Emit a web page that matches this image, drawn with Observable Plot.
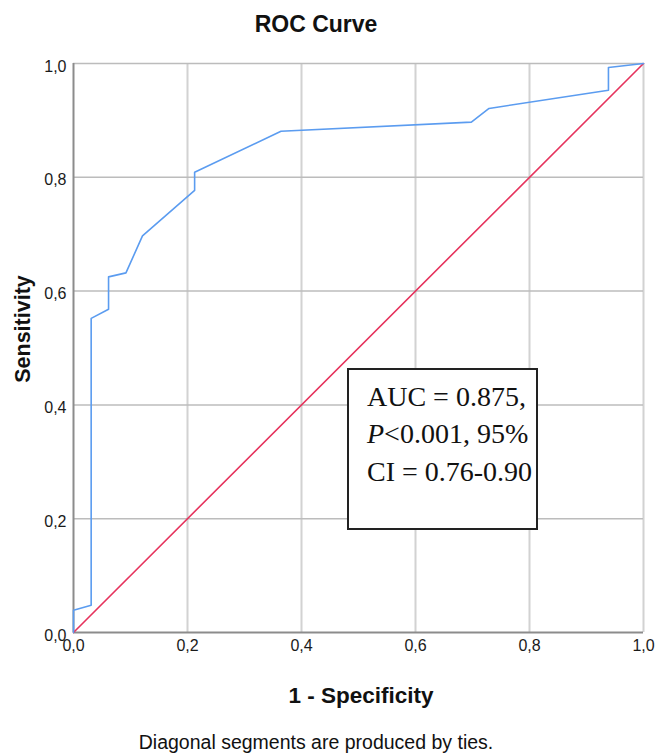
<!DOCTYPE html>
<html>
<head>
<meta charset="utf-8">
<script src="https://cdn.jsdelivr.net/npm/d3@7"></script>
<script src="https://cdn.jsdelivr.net/npm/@observablehq/plot@0.6"></script>
<style>
  html, body { margin: 0; padding: 0; background: #fff; }
  #chart { position: relative; width: 655px; height: 754px; }
</style>
</head>
<body>
<div id="chart"></div>
<script>
// ROC curve points (1 - specificity, sensitivity)
const fpr = [0, 0, 0.031, 0.031, 0.0615, 0.0615, 0.092, 0.121, 0.2125, 0.2125, 0.364, 0.698, 0.729, 0.9385, 0.9385, 1];
const tpr = [0, 0.039, 0.048, 0.552, 0.568, 0.625, 0.632, 0.697, 0.777, 0.809, 0.881, 0.897, 0.921, 0.953, 0.993, 1];
// reference (chance) line
const refX = [0, 1];
const refY = [0, 1];
// tick values
const ticks = [0, 0.2, 0.4, 0.6, 0.8, 1.0];
// texts
const titleText = "ROC Curve";
const xLabel = "1 - Specificity";
const yLabel = "Sensitivity";
const caption = "Diagonal segments are produced by ties.";
const annotLines = [["AUC = 0.875,"], ["P", "<0.001, 95%"], ["CI = 0.76-0.90"]];

const roc = fpr.map((x, i) => ({x, y: tpr[i]}));
const ref = refX.map((x, i) => ({x, y: refY[i]}));
const fmt = d => d.toFixed(1).replace(".", ",");

const W = 655, H = 754;
const mL = 73, mR = 12, mT = 63, mB = 122;

const plot = Plot.plot({
  width: W,
  height: H,
  marginLeft: mL,
  marginRight: mR,
  marginTop: mT,
  marginBottom: mB,
  style: {fontFamily: "'Liberation Sans', Arial, sans-serif", fontSize: "16px", background: "#fff", color: "#222", overflow: "visible"},
  x: {domain: [0, 1]},
  y: {domain: [0, 1]},
  marks: [
    Plot.ruleX(ticks.filter(d => d > 0), {stroke: "#d2d2d2", strokeWidth: 2}),
    Plot.ruleY(ticks.filter(d => d > 0), {stroke: "#bcbcbc", strokeWidth: 1.5}),
    Plot.ruleX([0], {stroke: "#8c8c8c", strokeWidth: 2}),
    Plot.ruleY([0], {stroke: "#8c8c8c", strokeWidth: 2}),
    Plot.axisX({ticks, tickFormat: fmt, tickSize: 0, tickPadding: 7, label: null, fontSize: 16, fill: "#1a1a1a"}),
    Plot.axisY({ticks, tickFormat: fmt, tickSize: 0, tickPadding: 7, label: null, fontSize: 16, fill: "#1a1a1a", dy: 3}),
    Plot.line(ref, {x: "x", y: "y", stroke: "#e6335d", strokeWidth: 1.6}),
    Plot.line(roc, {x: "x", y: "y", stroke: "#5b9cf0", strokeWidth: 1.6})
  ]
});

const svg = d3.select(plot);
const sans = "'Liberation Sans', Arial, sans-serif";
const serif = "'Liberation Serif', 'Times New Roman', serif";

// title
svg.append("text").attr("x", 316).attr("y", 32).attr("text-anchor", "middle")
  .attr("font-family", sans).attr("font-weight", "bold").attr("font-size", 23).attr("fill", "#111")
  .text(titleText);
// x label
svg.append("text").attr("x", 361).attr("y", 703).attr("text-anchor", "middle")
  .attr("font-family", sans).attr("font-weight", "bold").attr("font-size", 22.5).attr("fill", "#111")
  .text(xLabel);
// y label
svg.append("text").attr("transform", "translate(30,329) rotate(-90)").attr("text-anchor", "middle")
  .attr("font-family", sans).attr("font-weight", "bold").attr("font-size", 21.5).attr("fill", "#111")
  .text(yLabel);
// caption
svg.append("text").attr("x", 316).attr("y", 749).attr("text-anchor", "middle")
  .attr("font-family", sans).attr("font-size", 19.5).attr("fill", "#111")
  .text(caption);

// annotation box
svg.append("rect").attr("x", 348).attr("y", 369).attr("width", 189).attr("height", 160)
  .attr("fill", "#fff").attr("stroke", "#222").attr("stroke-width", 2);
const baselines = [405.7, 443.3, 481];
annotLines.forEach((parts, i) => {
  const t = svg.append("text").attr("x", 367).attr("y", baselines[i]).attr("text-anchor", "start")
    .attr("font-family", serif).attr("font-size", 28).attr("fill", "#111");
  if (parts.length === 2) {
    t.append("tspan").attr("font-style", "italic").text(parts[0]);
    t.append("tspan").text(parts[1]);
  } else {
    t.text(parts[0]);
  }
});

document.getElementById("chart").appendChild(plot);
</script>
</body>
</html>
